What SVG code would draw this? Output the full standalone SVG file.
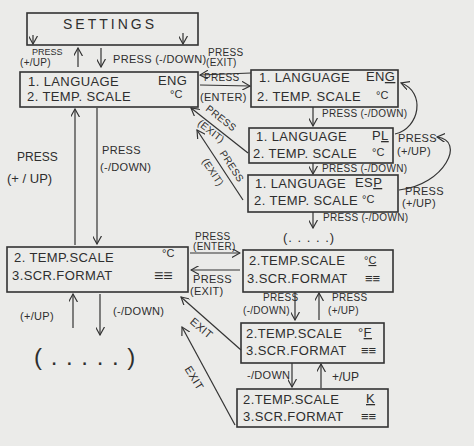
<svg xmlns="http://www.w3.org/2000/svg" width="474" height="446" viewBox="0 0 474 446">
<style>
.bg{fill:#ebebe9}
.box{fill:none;stroke:#333;stroke-width:1.6}
.t{font-family:"Liberation Sans",Arial,sans-serif;fill:#2e2e2e}
.bt{font-size:13px;letter-spacing:0.4px}
.sm{font-size:11px}
.lb{font-size:10px;letter-spacing:0.3px}
.lb2{font-size:11px;letter-spacing:0.3px}
.c{fill:none;stroke:#333;stroke-width:1.2;marker-end:url(#ah)}
.u{text-decoration:underline}
</style>
<defs>
<marker id="ah" viewBox="0 0 10 10" refX="9" refY="5" markerWidth="9" markerHeight="9" markerUnits="userSpaceOnUse" orient="auto">
<path d="M0,0 L9,5 L0,10" fill="none" stroke="#333" stroke-width="1.3"/>
</marker>
</defs>
<rect class="bg" x="0" y="0" width="474" height="446"/>

<g id="settings">
<rect class="box" x="27" y="13" width="171" height="32"/>
<text class="t" x="110" y="29" text-anchor="middle" font-size="14" letter-spacing="3">SETTINGS</text>
</g>
<g id="lang-eng">
<rect class="box" x="20" y="72" width="178" height="35"/>
<text class="t bt" x="28" y="86" letter-spacing="0.9">1. LANGUAGE</text>
<text class="t bt" x="158" y="85">ENG</text>
<text class="t bt" x="27" y="101">2. TEMP. SCALE</text>
<text class="t sm" x="170" y="98">°C</text>
</g>
<g id="sel-eng">
<rect class="box" x="251" y="70" width="147" height="37"/>
<text class="t bt" x="259" y="82">1. LANGUAGE</text>
<text class="t bt" x="366" y="81">EN<tspan class="u">G</tspan></text>
<text class="t bt" x="257" y="101">2. TEMP. SCALE</text>
<text class="t sm" x="376" y="99">°C</text>
</g>
<g id="sel-pl">
<rect class="box" x="249" y="128" width="144" height="35"/>
<text class="t bt" x="256" y="141">1. LANGUAGE</text>
<text class="t bt" x="372" y="140">P<tspan class="u">L</tspan></text>
<text class="t bt" x="253" y="158">2. TEMP. SCALE</text>
<text class="t sm" x="372" y="156">°C</text>
</g>
<g id="sel-esp">
<rect class="box" x="248" y="175" width="150" height="37"/>
<text class="t bt" x="255" y="188">1. LANGUAGE</text>
<text class="t bt" x="355" y="187">ES<tspan class="u">P</tspan></text>
<text class="t bt" x="254" y="205">2. TEMP. SCALE</text>
<text class="t sm" x="362" y="203">°C</text>
</g>
<g id="temp">
<rect class="box" x="7" y="247" width="181" height="45"/>
<text class="t bt" x="14" y="262">2. TEMP.SCALE</text>
<text class="t sm" x="162" y="257">°C</text>
<text class="t bt" x="12" y="280">3.SCR.FORMAT</text>
<text class="t" x="154" y="281" font-size="16">≡≡</text>
</g>
<g id="temp-c">
<rect class="box" x="243" y="250" width="150" height="42"/>
<text class="t bt" x="249" y="265">2.TEMP.SCALE</text>
<text class="t sm" x="364" y="264">°<tspan class="u">C</tspan></text>
<text class="t bt" x="247" y="283">3.SCR.FORMAT</text>
<text class="t" x="365" y="283" font-size="13">≡≡</text>
</g>
<g id="temp-f">
<rect class="box" x="241" y="323" width="143" height="40"/>
<text class="t bt" x="246" y="338">2.TEMP.SCALE</text>
<text class="t bt" x="358" y="337">°<tspan class="u">F</tspan></text>
<text class="t bt" x="246" y="355">3.SCR.FORMAT</text>
<text class="t" x="361" y="355" font-size="13">≡≡</text>
</g>
<g id="temp-k">
<rect class="box" x="237" y="389" width="151" height="38"/>
<text class="t bt" x="243" y="404">2.TEMP.SCALE</text>
<text class="t bt" x="366" y="403"><tspan class="u">K</tspan></text>
<text class="t bt" x="243" y="421">3.SCR.FORMAT</text>
<text class="t" x="361" y="421" font-size="13">≡≡</text>
</g>

<g id="connectors">
<path class="c" d="M33,35 L33,44"/>
<path class="c" d="M183,33 L183,44"/>
<path class="c" d="M78,67 L78,48"/>
<path class="c" d="M101,48 L101,67"/>
<path class="c" d="M251,73 L200,75"/>
<path class="c" d="M200,85 L250,86"/>
<path class="c" d="M313,107 L313,126"/>
<path class="c" d="M395,134 C420,128 426,92 401,83"/>
<path class="c" d="M313,163 L313,174"/>
<path class="c" d="M399,190 C445,185 466,140 437,137"/>
<path class="c" d="M313,212 L313,228"/>
<path class="c" d="M248,153 L191,108"/>
<path class="c" d="M243,200 L197,130"/>
<path class="c" d="M75,245 L75,109"/>
<path class="c" d="M97,108 L97,244"/>
<path class="c" d="M190,253 L240,253"/>
<path class="c" d="M240,270 L191,270"/>
<path class="c" d="M73,328 L73,294"/>
<path class="c" d="M100,294 L100,335"/>
<path class="c" d="M241,350 L181,297"/>
<path class="c" d="M235,425 L182,327"/>
<path class="c" d="M295,292 L295,320"/>
<path class="c" d="M319,320 L319,293"/>
<path class="c" d="M292,363 L292,387"/>
<path class="c" d="M321,388 L321,364"/>
</g>

<g id="labels">
<text class="t" x="32" y="55" font-size="9">PRESS</text>
<text class="t lb" x="20" y="66">(+/UP)</text>
<text class="t lb2" x="113" y="63">PRESS (-/DOWN)</text>
<text class="t lb" x="208" y="56">PRESS</text>
<text class="t lb" x="206" y="66">(EXIT)</text>
<text class="t lb" x="204" y="81">PRESS</text>
<text class="t lb2" x="200" y="101">(ENTER)</text>
<text class="t lb" x="322" y="117">PRESS (-/DOWN)</text>
<text class="t lb2" x="398" y="142">PRESS</text>
<text class="t lb2" x="397" y="155">(+/UP)</text>
<text class="t lb" x="322" y="172">PRESS (-/DOWN)</text>
<text class="t lb2" x="405" y="195">PRESS</text>
<text class="t lb2" x="402" y="207">(+/UP)</text>
<text class="t lb" x="323" y="221">PRESS (-/DOWN)</text>
<text class="t" x="283" y="242" font-size="13" letter-spacing="1">(. . . . .)</text>
<text class="t lb" transform="translate(219,121) rotate(38)" text-anchor="middle">PRESS</text>
<text class="t lb" transform="translate(209,134) rotate(38)" text-anchor="middle">(EXIT)</text>
<text class="t lb" transform="translate(229,168) rotate(57)" text-anchor="middle">PRESS</text>
<text class="t lb" transform="translate(210,174) rotate(57)" text-anchor="middle">(EXIT)</text>
<text class="t" x="17" y="161" font-size="12">PRESS</text>
<text class="t" x="7" y="183" font-size="13">(+ / UP)</text>
<text class="t lb2" x="102" y="154">PRESS</text>
<text class="t lb2" x="100" y="171">(-/DOWN)</text>
<text class="t lb" x="195" y="240">PRESS</text>
<text class="t lb" x="193" y="250">(ENTER)</text>
<text class="t lb2" x="193" y="283">PRESS</text>
<text class="t lb2" x="190" y="295">(EXIT)</text>
<text class="t lb2" x="20" y="320">(+/UP)</text>
<text class="t lb2" x="113" y="315">(-/DOWN)</text>
<text class="t" x="34" y="365" font-size="24" letter-spacing="1">( . . . . . )</text>
<text class="t lb2" transform="translate(199,331) rotate(40)" text-anchor="middle">EXIT</text>
<text class="t lb2" transform="translate(191,380) rotate(58)" text-anchor="middle">EXIT</text>
<text class="t lb" x="263" y="301">PRESS</text>
<text class="t lb" x="243" y="314">(-/DOWN)</text>
<text class="t lb" x="332" y="301">PRESS</text>
<text class="t lb" x="328" y="314">(+/UP)</text>
<text class="t lb2" x="247" y="379">-/DOWN</text>
<text class="t" x="332" y="381" font-size="12">+/UP</text>
</g>
</svg>
